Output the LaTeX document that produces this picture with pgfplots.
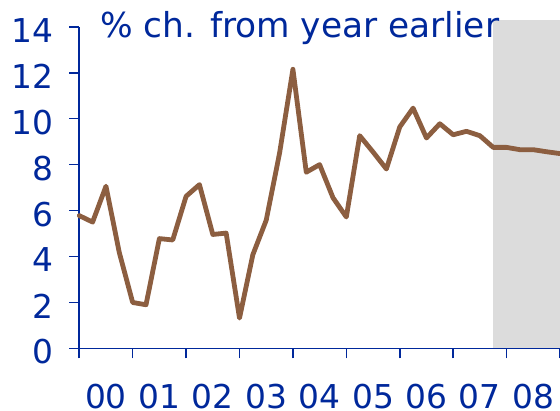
\documentclass[border=0pt]{standalone}
\usepackage{pgfplots}
\pgfplotsset{compat=1.18}
\usepackage{fontspec}
\setmainfont{DejaVu Sans}
\definecolor{axblue}{RGB}{0,40,155}
\definecolor{brown1}{RGB}{140,94,64}
\definecolor{shade}{RGB}{220,220,220}
\begin{document}
\begin{tikzpicture}
\begin{axis}[
  scale only axis,
  width=481bp, height=321.8bp,
  xmin=2000, xmax=2009, ymin=0, ymax=14,
  clip=false,
  axis x line*=bottom, axis y line*=left,
  axis line style={axblue, line width=1.8bp},
  every tick/.style={axblue, line width=1.6bp},
  tick align=outside, major tick length=10bp,
  xtick={2000,...,2009},
  xticklabels={00,01,02,03,04,05,06,07,08,},
  ytick={0,2,...,14},
  font=\fontsize{33}{40}\selectfont,
  /pgf/number format/assume math mode=true,
  tick label style={text=axblue, inner sep=0pt},
  xticklabel style={anchor=north, xshift=26.75bp, yshift=-26bp},
  yticklabel style={anchor=east, xshift=-16bp, yshift=-3.5bp},
]
\addplot[draw=none, fill=shade] coordinates {(2007.75,14.29) (2009,14.29)} \closedcycle;
\addplot[brown1, line width=4.8bp, line join=round, line cap=round] coordinates {
(2000.00,5.78) (2000.25,5.50) (2000.50,7.06) (2000.75,4.17)
(2001.00,2.00) (2001.25,1.90) (2001.50,4.78) (2001.75,4.72)
(2002.00,6.62) (2002.25,7.13) (2002.50,4.96) (2002.75,5.02)
(2003.00,1.32) (2003.25,4.08) (2003.50,5.58) (2003.75,8.50)
(2004.00,12.15) (2004.25,7.67) (2004.50,8.00) (2004.75,6.56)
(2005.00,5.72) (2005.25,9.26) (2005.50,8.55) (2005.75,7.81)
(2006.00,9.64) (2006.25,10.46) (2006.50,9.16) (2006.75,9.78)
(2007.00,9.30) (2007.25,9.45) (2007.50,9.26) (2007.75,8.75)
(2008.00,8.75) (2008.25,8.65) (2008.50,8.65) (2008.75,8.56)
(2009.00,8.48)
};
\node[anchor=base west, inner sep=0pt, text=axblue, xshift=21bp, font=\fontsize{34.5}{40}\selectfont] at (axis cs:2000,13.53) {\% ch. from year earlier};
\end{axis}
\pgfresetboundingbox
\path (-79.3bp,-62.4bp) rectangle (481bp,348.6bp);
\end{tikzpicture}
\end{document}
